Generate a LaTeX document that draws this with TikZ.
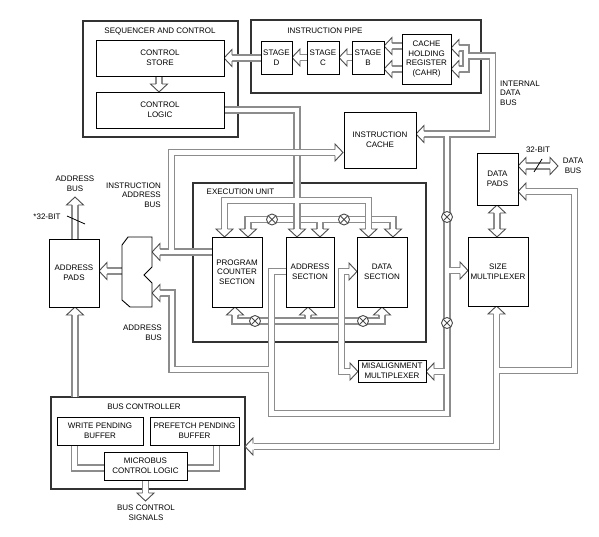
\documentclass[tikz,border=0pt]{standalone}
\usepackage{fontspec}
\setmainfont{Liberation Sans}
\pgfdeclarelayer{grp}
\pgfdeclarelayer{bus}
\pgfsetlayers{grp,bus,main}
\definecolor{busc}{gray}{0.55}
\definecolor{arrc}{gray}{0.3}
\newcommand\busgrp[1]{\draw[busO] #1; \draw[busI] #1;}
\tikzset{
  box/.style={draw=black, line width=0.9pt, fill=white, inner sep=0pt, align=center, font=\fontsize{8}{9.7}\selectfont},
  grpbox/.style={draw=black!80, line width=1.5pt, inner sep=0pt},
  lbl/.style={inner sep=0pt, align=center, font=\fontsize{8}{9.7}\selectfont},
  busO/.style={draw=busc, line width=7.2pt},
  busI/.style={draw=white, line width=4.8pt},
  arr/.style={draw=arrc, line width=0.9pt, fill=white, line join=miter},
  aL/.pic={\draw[arr] (8,-3) -- (8,-8.5) -- (0,0) -- (8,8.5) -- (8,3);},
  aR/.pic={\draw[arr] (-8,-3) -- (-8,-8.5) -- (0,0) -- (-8,8.5) -- (-8,3);},
  aD/.pic={\draw[arr] (-3,-8) -- (-8.5,-8) -- (0,0) -- (8.5,-8) -- (3,-8);},
  aU/.pic={\draw[arr] (-3,8) -- (-8.5,8) -- (0,0) -- (8.5,8) -- (3,8);},
  ox/.pic={\draw[draw=arrc, line width=0.9pt, fill=white] (0,0) circle[radius=5.5pt];
           \draw[arrc, line width=0.9pt] (-3.9,-3.9) -- (3.9,3.9) (-3.9,3.9) -- (3.9,-3.9);}
}
\begin{document}
\begin{tikzpicture}[x=1pt,y=-1pt]
\useasboundingbox (0,0) rectangle (599,536);

% ---------- group boxes ----------
\begin{pgfonlayer}{grp}
\node[grpbox, minimum width=155, minimum height=116] (seq) at (160.5,79) {};
\node[grpbox, minimum width=230, minimum height=73] (pipe) at (366,56.5) {};
\node[grpbox, minimum width=233, minimum height=159] (eu) at (309.5,262.5) {};
\node[grpbox, minimum width=194, minimum height=92] (bc) at (148,443) {};
\end{pgfonlayer}

% ---------- buses ----------
\begin{pgfonlayer}{bus}
% instruction pipe
\busgrp{(261,58) -- (232,58)}
\busgrp{(307,57.5) -- (300,57.5)}
\busgrp{(352,57.5) -- (347,57.5)}
\busgrp{(402,46) -- (392,46) (402,69) -- (392,69)}
\busgrp{(159,76) -- (159,84)}
% execution unit inner top bus
\busgrp{(248,229) -- (248,219.5) -- (393,219.5) -- (393,229) (320,219.5) -- (320,229)}
% execution unit bottom bus
\busgrp{(235,315) -- (235,321) -- (382,321) -- (382,315) (308,321) -- (308,315)}
% control logic bus
\busgrp{(224,110) -- (297,110) -- (297,229) (224.5,229) -- (224.5,200.5) -- (368.5,200.5) -- (368.5,229)}
% program counter / instruction address bus
\busgrp{(212,252) -- (160,252) (171.5,252) -- (171.5,152.5) -- (335,152.5)}
% data section <-> misalignment
\busgrp{(349,271.5) -- (341.5,271.5) -- (341.5,371.5) -- (350,371.5)}
% address bus / internal data bus
\busgrp{(286,271.5) -- (271.5,271.5) -- (271.5,413.5) -- (447,413.5) -- (447,134) -- (492.5,134) -- (492.5,56) -- (466,56)
        (459,48) -- (466,48) -- (466,69) -- (459,69)
        (447,134) -- (424,134)
        (271.5,369.5) -- (172,369.5) -- (172,293) -- (160,293)
        (447,270.5) -- (460,270.5)
        (447,371.5) -- (434,371.5)}
% bus controller / size multiplexer / data pads
\busgrp{(254,446.5) -- (496.5,446.5) -- (496.5,314) (496.5,370.5) -- (574.5,370.5) -- (574.5,191.5) -- (526,191.5)}
% address pads
\busgrp{(122,271) -- (107,271)}
\busgrp{(75,239) -- (75,205)}
\busgrp{(75,397) -- (75,315)}
% bus controller internal
\busgrp{(74.5,446) -- (74.5,468) -- (104,468) (216.5,445) -- (216.5,468) -- (187,468)}
\busgrp{(145.5,480) -- (145.5,493)}
% data pads
\busgrp{(497,213) -- (497,229)}
\busgrp{(526,166) -- (550,166)}

% arrowheads
\pic at (224,58) {aL};
\pic at (292,57.5) {aL};
\pic at (339,57.5) {aL};
\pic at (384,46) {aL};
\pic at (384,69) {aL};
\pic at (451,48) {aL};
\pic at (451,69) {aL};
\pic at (159,92) {aD};
\pic at (248,237) {aD};
\pic at (320,237) {aD};
\pic at (393,237) {aD};
\pic at (297,237) {aD};
\pic at (224.5,237) {aD};
\pic at (368.5,237) {aD};
\pic at (235,307) {aU};
\pic at (308,307) {aU};
\pic at (382,307) {aU};
\pic at (152,252) {aL};
\pic at (343,152.5) {aR};
\pic at (357,271.5) {aR};
\pic at (358,371.5) {aR};
\pic at (416,134) {aL};
\pic at (152,293) {aL};
\pic at (468,270.5) {aR};
\pic at (426,371.5) {aL};
\pic at (245,446.5) {aL};
\pic at (496.5,306) {aU};
\pic at (518,191.5) {aL};
\pic at (99,271) {aL};
\pic at (75,197) {aU};
\pic at (75,307) {aU};
\pic at (145.5,501) {aD};
\pic at (497,205) {aU};
\pic at (497,237) {aD};
\pic at (518,166) {aL};
\pic at (558,166) {aR};
% switches
\pic at (272,219.5) {ox};
\pic at (344,219.5) {ox};
\pic at (255,321) {ox};
\pic at (363,321) {ox};
\pic at (447,217) {ox};
\pic at (447,323) {ox};
\end{pgfonlayer}

% ---------- boxes ----------
\node[box, minimum width=128, minimum height=36] (cs) at (160,58) {CONTROL\\STORE};
\node[box, minimum width=128, minimum height=36] (cl) at (160,110) {CONTROL\\LOGIC};
\node[box, minimum width=31, minimum height=33] (sd) at (276.5,57.5) {STAGE\\D};
\node[box, minimum width=32, minimum height=33] (sc) at (323,57.5) {STAGE\\C};
\node[box, minimum width=32, minimum height=33] (sb) at (368,57.5) {STAGE\\B};
\node[box, minimum width=49, minimum height=50] (cahr) at (426.5,59) {CACHE\\HOLDING\\REGISTER\\(CAHR)};
\node[box, minimum width=72, minimum height=56] (ic) at (380,140) {INSTRUCTION\\CACHE};
\node[box, minimum width=50, minimum height=70] (pc) at (237,272) {PROGRAM\\COUNTER\\SECTION};
\node[box, minimum width=48, minimum height=70] (as) at (310,272) {ADDRESS\\SECTION};
\node[box, minimum width=50, minimum height=70] (ds) at (382,272) {DATA\\SECTION};
\node[box, minimum width=50, minimum height=68] (ap) at (74,273) {ADDRESS\\PADS};
\node[box, minimum width=41, minimum height=52] (dp) at (497.5,179) {DATA\\PADS};
\node[box, minimum width=60, minimum height=69] (sm) at (498,271.5) {SIZE\\MULTIPLEXER};
\node[box, minimum width=68, minimum height=22] (mm) at (392,371) {MISALIGNMENT\\MULTIPLEXER};
\node[box, minimum width=86, minimum height=28] (wpb) at (100,431) {WRITE PENDING\\BUFFER};
\node[box, minimum width=89, minimum height=28] (ppb) at (194.5,431) {PREFETCH PENDING\\BUFFER};
\node[box, minimum width=83, minimum height=28] (mcl) at (145.5,466) {MICROBUS\\CONTROL LOGIC};
% address multiplexer
\draw[black, line width=0.9pt, fill=white] (128,237) -- (152,237) -- (152,267) -- (144,275) -- (152,283)
   -- (152,307) -- (130,307) -- (122,300) -- (122,245) -- cycle;
\coordinate (amux) at (137,272);

% slashes
\draw[black, line width=0.8pt] (534,172) -- (542,159);
\draw[black, line width=0.8pt] (67,216) -- (85,224);

% ---------- titles and labels ----------
\node[lbl] (seqt) at (160,31) {SEQUENCER AND CONTROL};
\node[lbl] (pipet) at (325,31) {INSTRUCTION PIPE};
\node[lbl] (eut) at (240.5,192) {EXECUTION UNIT};
\node[lbl] (bct) at (144,407) {BUS CONTROLLER};
\node[lbl, align=right, anchor=east] (iab) at (161,195) {INSTRUCTION\\ADDRESS\\BUS};
\node[lbl, align=right, anchor=east] (abl) at (162,333) {ADDRESS\\BUS};
\node[lbl] (abt) at (75,184) {ADDRESS\\BUS};
\node[lbl] (a32) at (47,217) {*32-BIT};
\node[lbl, align=left, anchor=west] (idb) at (500,93) {INTERNAL\\DATA\\BUS};
\node[lbl] (d32) at (538,150) {32-BIT};
\node[lbl] (dbus) at (573,166) {DATA\\BUS};
\node[lbl] (bcs) at (146,513) {BUS CONTROL\\SIGNALS};
\end{tikzpicture}
\end{document}
